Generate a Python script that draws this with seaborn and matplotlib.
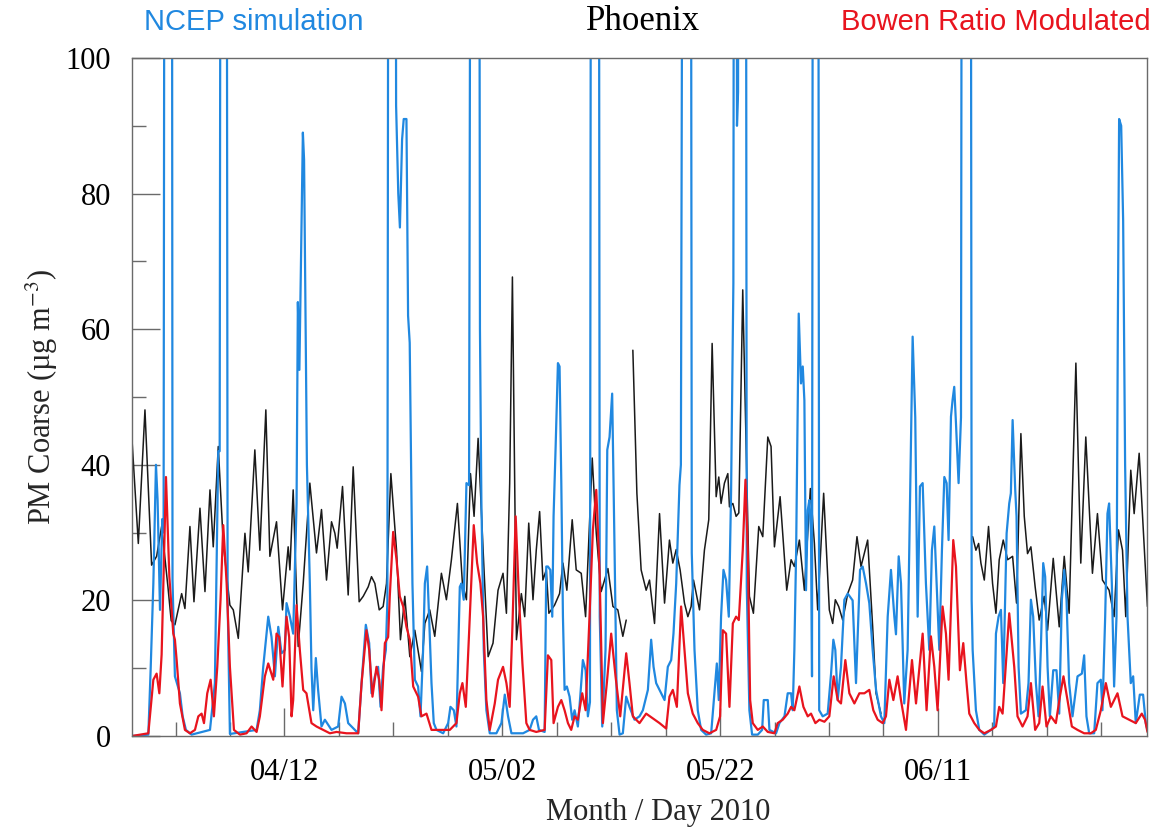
import numpy as np
import pandas as pd
import matplotlib
matplotlib.use("Agg")
import matplotlib.pyplot as plt
import matplotlib.dates as mdates
from matplotlib.ticker import FixedLocator
import seaborn as sns

# ---------------- data (day offset from 2010-03-29 00:00, PM coarse ug/m3) ----------------
start_date = "2010-03-29"
x_end_day = 93.2

obs_seg1 = [(0.00, 43.7), (0.58, 28.4), (1.19, 48.1), (1.80, 25.2), (2.26, 26.5), (2.72, 30.9), (3.30, 22.0),
            (3.60, 17.0), (3.94, 16.4), (4.56, 21.0), (4.86, 18.8), (5.32, 30.9), (5.69, 19.8), (6.24, 33.6),
            (6.70, 21.3), (7.16, 36.3), (7.46, 27.9), (7.92, 42.7), (8.38, 28.4), (8.99, 19.3), (9.30, 18.6),
            (9.76, 14.4), (10.37, 29.9), (10.67, 24.2), (11.28, 42.2), (11.74, 27.4), (12.29, 48.1),
            (12.66, 26.5), (13.27, 31.6), (13.82, 18.6), (14.34, 27.9), (14.50, 24.5), (14.80, 36.3),
            (15.26, 13.2), (15.72, 22.5), (16.33, 37.3), (16.94, 27.0), (17.40, 33.4), (17.86, 23.0),
            (18.32, 31.6), (18.63, 29.9), (18.84, 27.7), (19.33, 36.8), (19.85, 20.8), (20.31, 39.7),
            (20.86, 19.8), (21.23, 20.6), (21.69, 22.0), (21.99, 23.5), (22.30, 22.5), (22.70, 18.6),
            (23.06, 19.1), (23.37, 22.5), (23.77, 38.7), (24.29, 27.4), (24.65, 14.2), (25.05, 20.6),
            (25.51, 11.7), (25.97, 15.6), (26.58, 9.5), (26.89, 16.6), (27.34, 18.6), (27.80, 14.7),
            (28.41, 24.0), (28.87, 20.1), (29.33, 26.0), (29.88, 34.3), (30.34, 22.5), (30.71, 20.1),
            (31.08, 38.7), (31.41, 32.4), (31.78, 43.9), (32.24, 27.4), (32.70, 11.7), (33.15, 13.7),
            (33.61, 21.5), (34.07, 24.0), (34.38, 18.1), (34.68, 37.3), (34.93, 67.7), (35.30, 14.2),
            (35.75, 21.0), (36.06, 17.6), (36.43, 31.4), (36.82, 20.1), (37.12, 27.4), (37.43, 33.1),
            (37.73, 23.0), (38.04, 24.5), (38.28, 18.1), (38.80, 19.3), (39.26, 21.0), (39.57, 25.5),
            (39.93, 21.5), (40.42, 31.9), (40.79, 24.5), (41.25, 24.0), (41.65, 17.6), (42.26, 41.0),
            (42.63, 29.9), (43.08, 21.3), (43.70, 24.7), (44.16, 19.1), (44.61, 18.6), (45.07, 14.7),
            (45.38, 17.1)]

obs_seg2 = [(45.99, 56.9), (46.36, 35.8), (46.75, 24.5), (47.21, 21.5), (47.52, 23.0), (47.98, 16.6),
            (48.44, 32.8), (48.90, 19.6), (49.35, 28.9), (49.66, 25.5), (49.97, 27.5), (50.33, 24.5),
            (50.73, 19.6), (51.04, 17.6), (51.34, 19.1), (51.56, 23.0), (52.11, 18.6), (52.56, 27.4),
            (52.96, 31.9), (53.27, 57.9), (53.64, 35.3), (53.88, 38.2), (54.09, 34.3), (54.40, 37.3),
            (54.71, 38.7), (54.86, 33.8), (55.17, 34.3), (55.47, 32.4), (55.72, 32.9), (56.08, 65.8),
            (56.69, 20.6), (57.06, 18.1), (57.55, 30.9), (57.92, 29.4), (58.38, 44.1), (58.68, 42.7),
            (58.99, 27.9), (59.51, 35.3), (60.12, 21.5), (60.52, 26.0), (60.82, 25.0), (61.28, 28.9),
            (61.74, 21.5), (62.29, 36.5), (62.66, 28.4), (62.96, 18.6), (63.51, 35.8), (64.03, 18.6),
            (64.34, 16.6), (64.58, 20.1), (64.89, 19.1), (65.26, 17.1), (65.72, 21.0), (66.17, 23.0),
            (66.57, 29.4), (66.94, 25.0), (67.55, 28.9), (68.01, 16.1), (68.32, 6.3), (68.77, 3.3)]

obs_seg3 = [(77.19, 29.4), (77.49, 27.4), (77.74, 28.4), (77.95, 25.5), (78.26, 23.0), (78.65, 30.9),
            (79.02, 22.5), (79.33, 18.1), (79.63, 26.0), (80.00, 28.9), (80.40, 26.0), (80.86, 26.5),
            (81.22, 19.6), (81.62, 44.6), (81.93, 32.4), (82.23, 26.9), (82.54, 27.9), (82.93, 22.0),
            (83.30, 17.1), (83.76, 20.6), (84.07, 15.6), (84.59, 26.2), (85.14, 16.1), (85.60, 26.5),
            (86.05, 18.1), (86.67, 55.0), (87.12, 25.5), (87.58, 44.1), (88.19, 24.0), (88.65, 32.8),
            (89.11, 23.0), (89.72, 21.5), (90.18, 17.6), (90.58, 30.4), (90.95, 27.4), (91.25, 17.6),
            (91.71, 39.2), (92.02, 32.8), (92.48, 41.7), (92.78, 32.8), (93.24, 19.1)]

ncep = [(0.00, 0.0), (1.50, 0.2), (1.71, 9.7), (1.96, 22.5), (2.20, 40.0), (2.35, 34.8), (2.57, 18.6),
        (2.78, 32.0), (2.90, 30.0), (3.06, 250.0), (3.62, 250.0), (3.72, 23.0), (3.94, 8.8), (4.40, 6.3),
        (4.65, 2.9), (4.95, 0.9), (5.47, 0.2), (7.16, 0.9), (7.61, 7.8), (7.92, 42.0), (8.05, 42.0),
        (8.22, 250.0), (8.62, 250.0), (8.78, 20.0), (8.99, 0.3), (11.44, 0.9), (11.74, 3.8), (12.05, 10.2),
        (12.51, 17.6), (12.81, 14.6), (13.12, 8.8), (13.43, 16.1), (13.73, 12.2), (14.04, 12.7),
        (14.19, 19.6), (14.50, 17.6), (14.80, 15.1), (15.11, 34.3), (15.23, 64.0), (15.37, 54.0),
        (15.69, 89.0), (15.80, 85.0), (16.06, 40.0), (16.33, 22.5), (16.48, 10.0), (16.64, 3.8),
        (16.88, 11.5), (17.09, 6.8), (17.40, 1.4), (17.71, 2.4), (18.32, 0.9), (18.93, 1.4), (19.24, 5.8),
        (19.55, 4.8), (19.85, 1.9), (20.77, 0.4), (21.08, 7.8), (21.47, 16.4), (21.78, 13.7), (21.99, 6.3),
        (22.30, 8.8), (22.60, 10.2), (22.82, 4.3), (23.06, 10.2), (23.31, 12.7), (23.45, 20.0),
        (23.62, 250.0), (24.12, 250.0), (24.25, 93.0), (24.45, 80.0), (24.60, 75.0), (24.80, 88.0),
        (24.95, 91.0), (25.20, 91.0), (25.35, 62.0), (25.50, 58.0), (25.75, 22.5), (25.97, 8.3),
        (26.27, 7.3), (26.49, 2.9), (26.73, 12.7), (26.89, 22.5), (27.10, 25.0), (27.28, 17.6),
        (27.50, 7.8), (27.71, 1.9), (27.96, 0.9), (28.57, 0.4), (29.03, 1.9), (29.24, 4.3), (29.55, 3.8),
        (29.79, 1.4), (30.10, 22.0), (30.25, 22.5), (30.46, 20.1), (30.71, 37.3), (30.95, 37.0),
        (31.22, 250.0), (31.80, 250.0), (31.95, 60.0), (32.08, 34.8), (32.30, 12.7), (32.54, 3.8),
        (32.85, 0.4), (33.46, 0.4), (33.92, 1.9), (34.23, 6.1), (34.53, 2.9), (34.84, 0.4), (35.91, 0.4),
        (36.51, 0.9), (36.82, 2.4), (37.12, 2.9), (37.37, 0.9), (37.89, 0.6), (38.04, 25.0), (38.19, 25.0),
        (38.41, 24.5), (38.59, 17.6), (38.71, 32.4), (38.90, 42.7), (39.11, 55.0), (39.26, 54.5),
        (39.42, 37.3), (39.57, 17.6), (39.72, 6.8), (39.93, 7.3), (40.18, 5.8), (40.42, 2.4), (40.64, 3.8),
        (40.94, 1.4), (41.16, 5.8), (41.40, 11.2), (41.65, 9.7), (41.86, 2.9), (42.05, 5.0),
        (42.22, 250.0), (42.80, 250.0), (42.95, 17.6), (43.18, 1.4), (43.48, 12.7), (43.64, 42.2),
        (43.85, 44.1), (44.09, 50.5), (44.31, 27.4), (44.52, 3.8), (44.77, 0.2), (45.07, 0.4), (45.38, 5.8),
        (45.68, 4.3), (46.14, 2.4), (46.60, 2.9), (46.91, 3.8), (47.37, 6.8), (47.67, 14.2), (47.89, 10.2),
        (48.13, 7.8), (48.59, 6.3), (48.90, 5.3), (49.20, 10.2), (49.51, 11.2), (49.72, 15.1),
        (49.97, 22.5), (50.27, 37.0), (50.40, 40.0), (50.72, 250.0), (51.25, 250.0), (51.40, 27.0),
        (51.65, 12.7), (51.95, 3.8), (52.26, 0.9), (52.72, 0.2), (53.18, 0.4), (53.48, 6.3), (53.70, 10.7),
        (53.88, 5.3), (54.09, 17.6), (54.31, 24.5), (54.55, 23.0), (54.80, 17.6), (55.01, 36.0),
        (55.22, 66.8), (55.35, 250.0), (55.45, 250.0), (55.55, 90.0), (55.65, 95.0), (55.75, 250.0),
        (56.30, 250.0), (56.45, 22.0), (56.69, 3.8), (56.94, 0.2), (57.46, 0.2), (57.86, 0.9), (58.01, 5.3),
        (58.38, 5.3), (58.53, 0.9), (59.14, 0.4), (59.45, 1.9), (59.91, 2.9), (60.21, 6.3), (60.52, 6.3),
        (60.67, 3.8), (60.82, 12.7), (60.98, 27.0), (61.22, 62.3), (61.43, 52.0), (61.59, 54.5),
        (61.74, 49.5), (61.89, 21.5), (62.05, 33.3), (62.20, 34.8), (62.35, 30.0), (62.44, 8.8),
        (62.58, 250.0), (62.95, 250.0), (63.10, 3.8), (63.42, 2.9), (63.88, 3.3), (64.19, 9.2),
        (64.40, 14.2), (64.58, 12.7), (64.80, 5.3), (65.10, 10.2), (65.41, 20.1), (65.72, 21.0),
        (66.17, 20.0), (66.48, 7.8), (66.85, 24.5), (67.09, 25.0), (67.40, 22.5), (67.70, 19.6),
        (68.01, 12.7), (68.32, 6.8), (68.77, 2.9), (69.08, 1.9), (69.39, 17.6), (69.69, 24.5), (70.00, 17.6),
        (70.15, 15.0), (70.40, 26.5), (70.61, 22.5), (70.91, 4.8), (71.22, 12.7), (71.37, 27.4),
        (71.68, 58.9), (71.92, 47.0), (72.14, 17.6), (72.35, 36.8), (72.60, 37.3), (72.90, 22.5),
        (73.06, 17.6), (73.21, 12.7), (73.45, 27.4), (73.67, 30.9), (73.88, 22.5), (74.13, 12.7),
        (74.37, 27.4), (74.59, 38.2), (74.80, 37.3), (74.98, 28.9), (75.20, 47.1), (75.35, 49.6),
        (75.50, 51.5), (75.66, 46.1), (75.90, 37.3), (76.12, 47.0), (76.28, 250.0), (76.95, 250.0),
        (77.10, 20.0), (77.19, 12.7), (77.49, 3.8), (77.80, 0.9), (78.26, 0.2), (78.87, 0.9), (79.17, 1.4),
        (79.33, 15.1), (79.57, 17.6), (79.79, 18.6), (80.00, 7.8), (80.31, 29.9), (80.55, 34.3),
        (80.70, 35.8), (80.86, 46.6), (81.10, 36.3), (81.22, 32.4), (81.41, 10.2), (81.62, 3.3),
        (82.08, 3.8), (82.32, 7.8), (82.54, 20.1), (82.75, 17.6), (83.00, 7.8), (83.24, 2.9), (83.45, 12.7),
        (83.67, 25.5), (83.85, 23.5), (84.07, 10.2), (84.28, 2.9), (84.59, 9.7), (84.89, 9.7), (85.14, 3.3),
        (85.38, 20.1), (85.60, 24.5), (85.81, 20.1), (86.05, 7.8), (86.36, 2.9), (86.82, 8.8), (87.22, 9.2),
        (87.43, 11.9), (87.64, 2.9), (87.89, 0.4), (88.35, 0.4), (88.65, 7.8), (88.96, 8.3), (89.11, 3.8),
        (89.36, 17.6), (89.57, 32.8), (89.72, 34.3), (89.97, 22.5), (90.18, 7.3), (90.40, 17.6),
        (90.52, 60.0), (90.64, 91.0), (90.83, 90.0), (91.01, 76.0), (91.19, 40.0), (91.41, 17.6),
        (91.71, 7.8), (91.93, 8.8), (92.17, 1.9), (92.54, 6.1), (92.84, 6.1), (93.09, 1.9), (93.24, 0.9)]

bowen = [(0.00, 0.0), (1.50, 0.4), (1.96, 8.3), (2.26, 9.2), (2.51, 6.3), (2.72, 12.0), (3.12, 38.2),
         (3.43, 23.5), (3.64, 18.6), (3.79, 15.1), (3.94, 14.2), (4.10, 11.2), (4.40, 4.8), (4.86, 0.9),
         (5.32, 0.4), (5.78, 0.9), (6.09, 2.9), (6.39, 3.3), (6.61, 1.9), (6.91, 6.3), (7.22, 8.3),
         (7.52, 2.9), (7.83, 10.2), (8.13, 20.1), (8.38, 31.1), (8.69, 22.5), (8.99, 10.2), (9.36, 0.9),
         (9.91, 0.2), (10.52, 0.4), (10.98, 1.4), (11.44, 0.6), (11.74, 2.9), (12.20, 8.8), (12.51, 10.7),
         (12.97, 8.3), (13.27, 15.1), (13.52, 14.6), (13.82, 7.3), (14.19, 17.6), (14.43, 14.6),
         (14.65, 2.9), (14.80, 5.3), (15.11, 19.3), (15.41, 12.7), (15.72, 6.8), (16.02, 6.3),
         (16.48, 1.9), (16.94, 1.4), (17.55, 0.9), (18.17, 0.4), (18.78, 0.6), (19.70, 0.4), (20.77, 0.4),
         (21.08, 7.8), (21.53, 15.6), (21.78, 12.7), (22.08, 5.8), (22.45, 10.2), (22.70, 8.3),
         (22.91, 3.8), (23.22, 13.7), (23.52, 14.6), (23.67, 20.6), (23.98, 30.1), (24.29, 26.0),
         (24.59, 20.6), (24.90, 19.1), (25.20, 16.1), (25.51, 14.2), (25.82, 7.3), (26.27, 5.8),
         (26.58, 2.9), (27.04, 3.3), (27.50, 0.9), (28.26, 0.9), (29.18, 0.9), (29.79, 1.9), (30.10, 6.3),
         (30.34, 7.8), (30.65, 4.3), (30.95, 15.1), (31.38, 31.1), (31.69, 25.5), (31.99, 22.5),
         (32.24, 17.6), (32.54, 5.3), (32.85, 0.9), (33.31, 4.8), (33.61, 8.3), (34.07, 10.2), (34.38, 7.8),
         (34.68, 4.3), (34.93, 16.1), (35.23, 32.4), (35.54, 20.1), (35.85, 10.7), (36.21, 1.9),
         (36.51, 0.9), (37.12, 0.6), (37.89, 0.9), (38.19, 11.9), (38.50, 11.2), (38.71, 1.9), (39.11, 4.3),
         (39.42, 5.3), (39.72, 3.8), (40.03, 1.9), (40.33, 0.9), (40.64, 2.9), (40.94, 2.4), (41.34, 6.3),
         (41.65, 3.8), (42.01, 17.6), (42.32, 30.4), (42.63, 36.3), (42.93, 24.5), (43.24, 1.9),
         (43.60, 7.8), (44.00, 15.1), (44.40, 8.8), (44.83, 2.9), (45.38, 12.2), (45.68, 7.8), (45.99, 2.9),
         (46.60, 1.9), (47.21, 3.3), (47.83, 2.6), (48.44, 1.9), (49.05, 1.1), (49.35, 5.8), (49.66, 6.8),
         (50.03, 4.3), (50.42, 19.1), (50.73, 12.7), (51.04, 6.3), (51.49, 3.3), (51.95, 1.9), (52.41, 0.9),
         (53.02, 0.4), (53.64, 0.9), (54.00, 2.9), (54.25, 15.6), (54.55, 15.1), (54.86, 4.3),
         (55.17, 16.6), (55.47, 17.6), (55.72, 17.1), (56.08, 27.4), (56.33, 37.8), (56.54, 27.4),
         (56.76, 5.3), (57.00, 1.9), (57.46, 0.9), (57.92, 1.4), (58.38, 0.6), (58.99, 0.4), (59.29, 1.9),
         (59.75, 2.4), (60.21, 3.3), (60.52, 4.3), (60.82, 3.8), (61.28, 7.3), (61.65, 4.3), (62.05, 2.9),
         (62.35, 3.3), (62.75, 1.9), (63.12, 2.4), (63.58, 2.1), (64.03, 2.9), (64.43, 8.8), (64.80, 5.3),
         (65.10, 4.8), (65.50, 11.2), (65.87, 6.3), (66.33, 4.8), (66.79, 6.3), (67.25, 6.3), (67.70, 6.8),
         (68.07, 3.8), (68.47, 2.4), (68.93, 1.9), (69.23, 2.9), (69.54, 8.3), (69.91, 5.3), (70.30, 8.8),
         (70.61, 5.3), (71.07, 0.9), (71.62, 11.2), (71.99, 4.8), (72.60, 15.1), (72.96, 3.8),
         (73.36, 14.7), (73.67, 10.2), (73.97, 3.8), (74.43, 19.1), (74.74, 15.1), (74.98, 8.3),
         (75.41, 28.9), (75.66, 25.0), (76.02, 9.7), (76.33, 13.7), (76.63, 7.8), (76.88, 3.3),
         (77.34, 1.9), (77.80, 0.9), (78.26, 0.4), (78.87, 0.9), (79.33, 1.4), (79.63, 4.3), (79.94, 3.3),
         (80.55, 18.1), (81.01, 10.2), (81.31, 2.9), (81.77, 1.4), (82.23, 2.9), (82.54, 7.8), (82.93, 0.9),
         (83.30, 1.9), (83.61, 7.3), (83.97, 1.4), (84.37, 2.9), (84.83, 1.9), (85.20, 5.8), (85.53, 8.8),
         (85.90, 5.3), (86.30, 1.4), (86.82, 0.9), (87.43, 0.4), (88.04, 0.4), (88.50, 0.9), (88.96, 3.8),
         (89.42, 7.8), (89.88, 4.3), (90.49, 6.3), (90.95, 2.9), (91.56, 2.4), (92.17, 1.9), (92.72, 3.3),
         (93.02, 2.4), (93.24, 0.6)]

major_tick_dates = ["2010-04-12", "2010-05-02", "2010-05-22", "2010-06-11"]
minor_tick_dates = ["2010-04-02", "2010-04-07", "2010-04-17", "2010-04-22", "2010-04-27", "2010-05-07",
                    "2010-05-12", "2010-05-17", "2010-05-27", "2010-06-01", "2010-06-06", "2010-06-16",
                    "2010-06-21", "2010-06-26"]
y_major = [0, 20, 40, 60, 80, 100]
y_minor = [10, 30, 50, 70, 90]

title_left = "NCEP simulation"
title_mid = "Phoenix"
title_right = "Bowen Ratio Modulated"
x_label = "Month / Day 2010"
y_label = "PM Coarse (µg m$^{-3}$)"

# ---------------- build frames ----------------
t0 = pd.Timestamp(start_date)


def to_frame(pairs, seg=0):
    d = np.array([p[0] for p in pairs])
    v = np.array([p[1] for p in pairs])
    return pd.DataFrame({"time": t0 + pd.to_timedelta(d, unit="D"), "val": v, "seg": seg})


obs_df = pd.concat([to_frame(obs_seg1, 1), to_frame(obs_seg2, 2), to_frame(obs_seg3, 3)], ignore_index=True)
ncep_df = to_frame(ncep)
bowen_df = to_frame(bowen)

# ---------------- style ----------------
sns.set_style("white")
plt.rcParams["font.family"] = ["Liberation Serif", "DejaVu Serif"]
plt.rcParams["mathtext.fontset"] = "stix"

BLUE = "#2088e0"
RED = "#e8141e"
BLACK = "#1a1a1a"
GREY = "#6a6a6a"

fig, ax = plt.subplots(figsize=(11.59, 8.38), dpi=100)
fig.subplots_adjust(left=132 / 1159, right=1147 / 1159, bottom=1 - 736 / 838, top=1 - 58 / 838)

sns.lineplot(data=obs_df, x="time", y="val", units="seg", estimator=None, color=BLACK, lw=1.1, ax=ax,
             sort=False)
sns.lineplot(data=ncep_df, x="time", y="val", color=BLUE, lw=1.6, ax=ax, sort=False, estimator=None)
sns.lineplot(data=bowen_df, x="time", y="val", color=RED, lw=1.6, ax=ax, sort=False, estimator=None)

ax.set_xlim(t0, t0 + pd.Timedelta(days=x_end_day))
ax.set_ylim(0, 100)

ax.xaxis.set_major_locator(FixedLocator(mdates.date2num(pd.to_datetime(major_tick_dates))))
ax.xaxis.set_minor_locator(FixedLocator(mdates.date2num(pd.to_datetime(minor_tick_dates))))
ax.xaxis.set_major_formatter(mdates.DateFormatter("%m/%d"))
ax.yaxis.set_major_locator(FixedLocator(y_major))
ax.yaxis.set_minor_locator(FixedLocator(y_minor))

ax.tick_params(axis="both", which="major", direction="in", length=20, width=1.0, color=GREY,
               labelsize=22, labelcolor="black")
ax.tick_params(axis="both", which="minor", direction="in", length=10, width=1.0, color=GREY)
ax.tick_params(axis="x", which="both", top=False, bottom=True)
ax.tick_params(axis="y", which="both", left=True, right=False)
ax.tick_params(axis="x", which="major", pad=16)
ax.tick_params(axis="y", which="major", pad=15)

for s in ax.spines.values():
    s.set_visible(True)
    s.set_color(GREY)
    s.set_linewidth(1.0)

ax.set_xlabel(x_label, fontsize=22)
ax.xaxis.set_label_coords(0.518, -0.092)
ax.set_ylabel(y_label, fontsize=22, labelpad=4)

fig.text(144 / 1159, 1 - 22 / 838, title_left, color=BLUE, fontsize=21, ha="left", va="center",
         family=["Liberation Sans", "DejaVu Sans"])
fig.text(643 / 1159, 1 - 22 / 838, title_mid, color="black", fontsize=25, ha="center", va="center")
fig.text(1151 / 1159, 1 - 22 / 838, title_right, color=RED, fontsize=21, ha="right", va="center",
         family=["Liberation Sans", "DejaVu Sans"])

fig.savefig("out.png", dpi=100)
